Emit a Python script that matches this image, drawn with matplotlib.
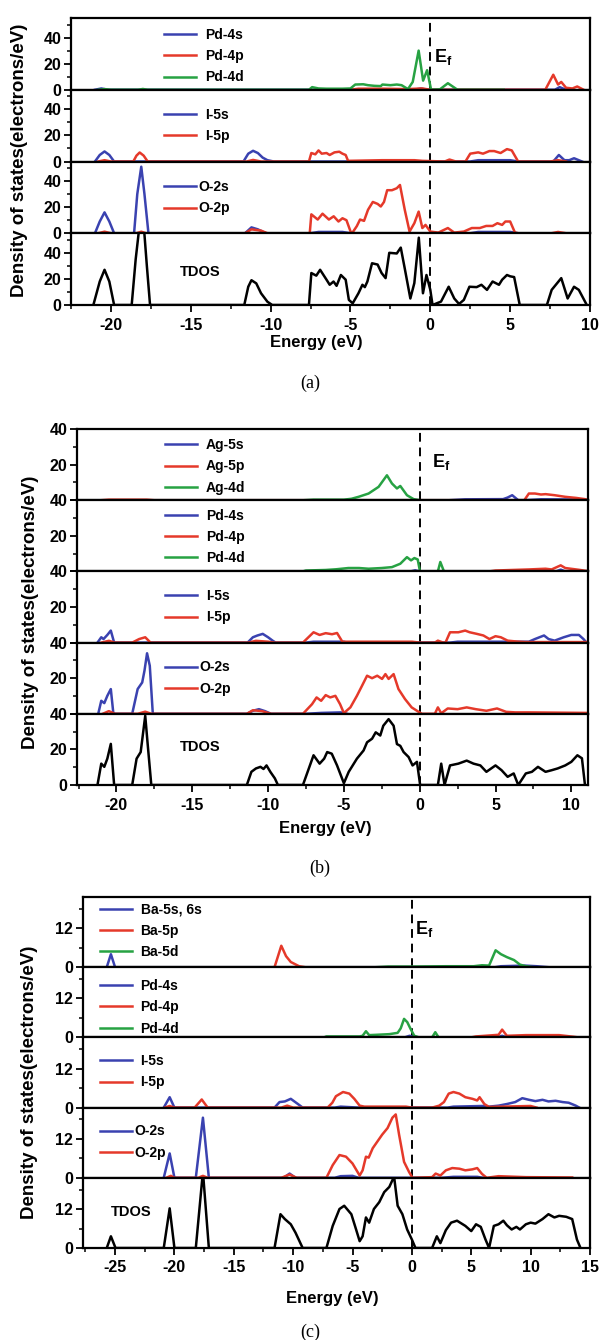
import matplotlib
matplotlib.use('Agg')
import matplotlib.pyplot as plt
from matplotlib.ticker import MultipleLocator

plt.rcParams['font.family'] = ['Liberation Sans', 'DejaVu Sans']
plt.rcParams['font.weight'] = 'bold'
plt.rcParams['axes.unicode_minus'] = False
plt.rcParams['mathtext.fontset'] = 'custom'
plt.rcParams['mathtext.bf'] = 'Liberation Sans:bold'
plt.rcParams['mathtext.rm'] = 'Liberation Sans:bold'

BLUE = '#3a42b0'
RED = '#e5392a'
GREEN = '#27a243'

# ---------------- (a) Pd / I / O / TDOS ----------------
a_pd4s = [(-21.0,0),(-20.6,1.0),(-20.2,0),(-1.0,0),(-0.6,1.0),(-0.2,0),(7.8,0),(8.1,2.0),(8.5,0)]
a_pd4p = [(-5.0,0),(-4.5,0.8),(-3.0,0.8),(-1.5,0.5),(-0.5,1),(0,0),(7.2,0),(7.7,11.5),(8.0,4),(8.2,6),
          (8.5,1.5),(8.9,1),(9.2,2.5),(9.6,0)]
a_pd4d = [(-20.8,0),(-20.4,0.5),(-20,0),(-18.3,0),(-18.0,0.6),(-17.7,0),(-7.6,0),(-7.4,2),(-7.0,1),(-6.5,0.8),
          (-5.5,0.8),(-5.0,1),(-4.7,4),(-4.2,4.2),(-3.9,3.5),(-3.5,3),(-3.1,2.8),(-3.0,4),(-2.5,3.5),(-2.1,4),
          (-1.8,3.5),(-1.4,0.5),(-1.1,6),(-0.73,30),(-0.45,7),(-0.2,15),(0.05,0),(0.6,0.3),(1.1,5),(1.7,0),(4.6,0)]
a_i5s = [(-21.0,0),(-20.7,5),(-20.4,7.7),(-20.1,5),(-19.8,0),(-11.7,0),(-11.4,6),(-11.1,8.2),(-10.8,6.5),
         (-10.5,3),(-10.2,1),(-9.8,0),(2.5,0),(3,1),(5,1),(5.5,0),(7.7,0),(8.05,5),(8.4,1),(8.7,1),(9.0,2.5),(9.5,0)]
a_i5p = [(-20.8,0),(-20.4,1),(-20.0,0),(-18.6,0),(-18.4,4.5),(-18.2,6.9),(-17.95,4.5),(-17.7,0),(-11.5,0),
         (-11.1,1.2),(-10.6,0),(-7.6,0),(-7.45,6.5),(-7.2,5.5),(-7.0,8.5),(-6.8,6),(-6.5,6.5),(-6.3,5),(-6.0,7),
         (-5.7,7.5),(-5.5,6),(-5.3,5),(-5.15,0.5),(-3,1),(-1,1),(-0.5,0.5),(0.9,0),(1.2,1.5),(1.6,0),(2.2,0),
         (2.5,6),(3.0,7),(3.3,6),(3.7,8),(4.0,8),(4.4,6.5),(4.8,9.5),(5.1,8.5),(5.5,0),(7.5,0),(8.0,1),(8.5,0)]
a_o2s = [(-21.0,0),(-20.7,9),(-20.4,16),(-20.1,9),(-19.8,0),(-18.55,0),(-18.35,30),(-18.1,51),(-17.9,30),
         (-17.65,0),(-11.6,0),(-11.2,4.5),(-10.8,3),(-10.3,0),(-7.5,0),(-7,1),(-5.5,1),(-5,0),(2.5,0),(3,1),
         (5,1),(5.5,0)]
a_o2p = [(-20.8,0),(-20.4,1.2),(-20,0),(-18.4,0),(-18.1,1.2),(-17.8,0),(-11.6,0),(-11.2,3),(-10.6,2),(-10.2,0),
         (-7.55,0),(-7.45,14.5),(-7.05,10.5),(-6.75,15),(-6.35,10.5),(-6.05,13),(-5.75,9),(-5.5,11.5),
         (-5.25,10),(-5.0,1.5),(-4.9,0),(-4.6,5.5),(-4.4,10.5),(-4.15,9.5),(-3.9,18),(-3.6,24),(-3.3,22.5),
         (-3.1,20.5),(-2.9,24),(-2.7,33),(-2.4,33),(-2.1,34.5),(-1.9,37),(-1.6,18),(-1.3,1.3),(-1.0,7.7),
         (-0.73,16.6),(-0.5,4),(-0.3,6.4),(0,1.3),(0.5,0.5),(1.1,4),(1.5,0.5),(2.1,1.3),(2.6,4),(3.1,4),
         (3.5,5.6),(3.9,5.6),(4.2,7.7),(4.5,6.4),(4.7,9),(5.0,9),(5.3,0.5),(5.5,0),(7.6,0),(8.0,1),(8.5,0)]
a_tdos = [(-21.1,0),(-20.7,18),(-20.4,27),(-20.1,18),(-19.8,0),(-18.7,0),(-18.45,35),(-18.2,62),(-17.95,62),
          (-17.75,30),(-17.55,0),(-11.65,0),(-11.4,14),(-11.2,19),(-10.9,16.6),(-10.6,9),(-10.2,2.5),(-9.9,0),
          (-7.6,0),(-7.45,24.5),(-7.14,22.5),(-6.9,27),(-6.5,19.4),(-6.3,15.5),(-6.06,18),(-5.87,14.7),
          (-5.6,23),(-5.3,19.4),(-5.1,3.9),(-4.86,1.3),(-4.5,9),(-4.25,15.5),(-4.1,13.7),(-3.94,18),(-3.65,32),
          (-3.3,31),(-3.05,24.5),(-2.8,20.6),(-2.57,40),(-2.1,39.5),(-1.85,44),(-1.6,28),(-1.25,5),(-1.0,16.8),
          (-0.72,51.6),(-0.46,9),(-0.24,23),(0,11.6),(0.14,0),(0.67,2.6),(1.15,14),(1.5,5),(1.8,0.8),(2.1,3.9),
          (2.45,14),(2.9,13.7),(3.2,15.5),(3.55,11.6),(3.9,18),(4.3,15.5),(4.5,19.4),(4.8,23),(5.0,22),
          (5.25,21.4),(5.6,0),(7.3,0),(7.6,11.6),(8.2,20.6),(8.6,5),(9.0,14),(9.3,11.6),(9.8,0)]

# ---------------- (b) Ag / Pd / I / O / TDOS ----------------
b_ag5s = [(2.0,0),(3.0,0.5),(5.5,0.6),(5.8,1.5),(6.1,2.8),(6.5,0),(7,0),(8,0.5),(10,0.4),(11,0)]
b_ag5p = [(-21,0),(-20.5,0.3),(-18,0.3),(-17.5,0),(6.9,0),(7.2,3.75),(7.6,3.75),(8.0,3.2),(8.3,3.4),(8.9,2.8),
          (9.6,1.9),(10.3,1.3),(10.9,0.6),(11.2,0)]
b_ag4d = [(-7.6,0),(-7.0,0.3),(-5.0,0.3),(-4.5,0.8),(-4.03,1.9),(-3.37,3.75),(-2.71,7.5),(-2.16,14),(-1.83,9.4),
          (-1.5,6.6),(-1.28,8),(-0.84,2.8),(-0.4,0.6),(0,0)]
b_pd4s = [(-0.6,0),(-0.3,0.6),(0,0),(9.0,0),(9.3,1),(9.6,0)]
b_pd4p = [(4.6,0),(5.0,0.5),(7.2,1.1),(8.3,1.5),(8.7,1.1),(9.3,3.4),(9.6,1.9),(10.5,0.9),(10.9,0.4),(11.2,0)]
b_pd4d = [(-7.7,0),(-7.5,0.5),(-6.2,0.8),(-5.5,1.2),(-4.7,1.9),(-4.0,1.9),(-3.37,1.5),(-2.5,1.9),(-1.83,2.4),
          (-1.28,4.3),(-0.84,8),(-0.57,6.2),(-0.35,7.5),(-0.13,6.7),(0.02,0),(1.2,0),(1.36,5.3),(1.6,0)]
b_i5s = [(-21.25,0),(-21.0,3),(-20.85,2),(-20.6,4.3),(-20.37,6.75),(-20.15,0),(-11.35,0),(-11.0,3),(-10.7,4),
         (-10.35,4.9),(-10.0,3),(-9.7,1.1),(-9.5,0),(-7.5,0),(-7,0.5),(-5,0.5),(-4.8,0),(2,0),(2.5,0.5),
         (6.5,0.5),(7.2,0.5),(7.6,2),(8.2,4),(8.5,2),(8.9,1.1),(9.5,3),(10.0,4.3),(10.5,4.3),(10.8,2),(11.0,0)]
b_i5p = [(-21.0,0),(-20.5,1),(-20.1,0),(-18.96,0),(-18.5,2),(-18.1,3),(-17.75,0),(-11.3,0),(-10.8,1),
         (-10.0,0.5),(-9.6,0),(-7.7,0),(-7.0,5.8),(-6.6,4.3),(-6.2,5.3),(-5.78,4.7),(-5.45,5.4),(-5.1,0.5),
         (-2,0.5),(-0.5,0.5),(0,0),(1.0,0),(1.2,1.1),(1.55,0),(1.7,0),(2.0,5.8),(2.55,5.8),(3.0,6.75),(3.3,5.8),
         (3.77,4.9),(4.2,4),(4.6,2),(5.0,3.6),(5.35,3),(5.8,1.1),(6.4,0.6),(7.0,0.3),(11,0.3)]
b_o2s = [(-21.2,0),(-21.0,7.3),(-20.8,6),(-20.6,10.1),(-20.37,13.9),(-20.2,0),(-18.96,0),(-18.6,13.9),
         (-18.3,17.6),(-18.15,24.2),(-17.98,34),(-17.8,27),(-17.6,0),(-11.4,0),(-11.0,1.7),(-10.6,2.6),
         (-10.2,1.5),(-9.8,0),(-7.5,0),(-6.5,0.5),(-5.2,0.8),(-4.8,0)]
b_o2p = [(-20.9,0),(-20.5,1.5),(-20.1,0),(-18.6,0),(-18.1,1.2),(-17.7,0),(-11.4,0),(-11.0,2),(-10.4,1.5),
         (-9.8,0),(-7.7,0),(-7.1,5.4),(-6.8,9.2),(-6.5,7.3),(-6.2,10.5),(-5.9,9.2),(-5.56,10.1),(-5.25,5.4),
         (-5.0,0.4),(-4.57,3.6),(-4.14,10.1),(-3.8,15.8),(-3.47,21.4),(-3.14,20),(-2.8,21.4),(-2.48,19.6),
         (-2.26,22.3),(-2.05,19.6),(-1.72,22.3),(-1.4,13.9),(-0.97,8.3),(-0.53,3.6),(-0.07,1.1),(0.15,0),
         (1.0,0),(1.2,3.6),(1.42,0.3),(1.85,3),(2.5,2.6),(3.1,3.6),(3.7,2.6),(4.4,1.7),(5.1,3),(5.7,1.1),
         (6.3,0.8),(7.2,0.8),(11,0.5)]
b_tdos = [(-21.25,0),(-21.0,12),(-20.8,10.2),(-20.6,14.8),(-20.37,23.1),(-20.15,0),(-18.96,0),(-18.67,14.8),
          (-18.4,18.5),(-18.1,38.9),(-17.95,24),(-17.7,0),(-11.4,0),(-11.1,7.4),(-10.8,9.3),(-10.5,10.2),
          (-10.3,9),(-10.1,11),(-9.85,7.4),(-9.55,3.7),(-9.35,0),(-7.7,0),(-7.0,16.7),(-6.6,12),(-6.3,14.8),
          (-6.1,18.5),(-5.8,17.6),(-5.45,11),(-5.0,1),(-4.68,7.4),(-4.14,14.8),(-3.7,19.4),(-3.47,24),
          (-3.14,26),(-2.9,29.6),(-2.6,27.8),(-2.4,33.3),(-2.05,37),(-1.72,33.3),(-1.5,23),(-1.28,22),
          (-1.06,18.5),(-0.73,15.7),(-0.47,11),(-0.18,13),(0.03,0),(1.2,0),(1.42,12),(1.64,0),(2.0,11),
          (2.55,12),(3.1,13.7),(3.55,12),(4.0,11),(4.4,7.4),(5.0,11),(5.4,8.3),(5.8,4.6),(6.2,6.5),(6.5,0),
          (7.0,6.5),(7.4,7.4),(7.8,10.2),(8.3,7.4),(8.7,8.3),(9.1,9.3),(9.6,11),(10.0,13),(10.4,16.7),
          (10.7,15),(10.9,0)]

# ---------------- (c) Ba / Pd / I / O / TDOS ----------------
c_ba5s = [(-25.7,0),(-25.35,4),(-25.0,0),(7,0),(7.5,0.3),(9.5,0.5),(10.5,0.3),(11.5,0)]
c_ba5p = [(-11.57,0),(-11.0,6.6),(-10.6,3.4),(-10.2,1.6),(-9.5,0.3),(-9.0,0)]
c_ba5d = [(-3,0),(-2,0.2),(0,0.2),(2.86,0.3),(5.2,0.3),(5.9,0.6),(6.5,0.5),(7.05,5.2),(7.5,4),(8.0,3.1),
          (8.6,2.2),(9.1,0.8),(9.6,0.3),(10.2,0)]
c_pd4s = [(-0.6,0),(-0.2,0.5),(0.3,0),(7.2,0),(7.6,0.5),(8.0,0)]
c_pd4p = [(5.0,0),(5.4,0.3),(7.3,0.8),(7.6,2.4),(8.0,0.5),(9.6,0.7),(12.4,0.7),(13.6,0.2),(14,0)]
c_pd4d = [(-7.4,0),(-7.2,0.3),(-4.4,0.3),(-4.15,0.5),(-3.87,1.9),(-3.6,0.7),(-3.0,0.8),(-1.9,1.0),(-1.2,1.4),
          (-0.94,2.8),(-0.66,5.7),(-0.39,4.7),(-0.11,2.6),(0.2,0.5),(0.6,0),(1.7,0),(1.97,1.6),(2.25,0)]
c_i5s = [(-20.9,0),(-20.4,3.2),(-20.0,0),(-11.57,0),(-11.15,1.7),(-10.7,1.9),(-10.2,2.7),(-9.6,1.1),(-9.2,0),
         (-6.5,0),(-6,0.3),(-4.5,0),(3,0),(3.5,0.3),(6.0,0.5),(6.5,0.3),(7.3,0.6),(8.0,1.1),(8.7,1.7),(9.3,2.9),
         (9.86,2.4),(10.4,2.0),(11.0,2.4),(11.5,1.9),(12.1,2.1),(12.7,1.7),(13.2,1.5),(13.8,0.6),(14.1,0)]
c_i5p = [(-20.8,0),(-20.4,0.5),(-20.0,0),(-18.3,0),(-17.7,2.5),(-17.2,0),(-11.0,0),(-10.5,0.6),(-10.0,0),
         (-7.1,0),(-6.7,1.5),(-6.4,3.5),(-5.8,4.8),(-5.27,4.3),(-4.85,2.7),(-4.4,0.6),(-4.0,0.3),(-0.5,0.3),
         (0,0),(1.7,0),(2.3,0.6),(2.7,1.7),(3.1,4.3),(3.5,4.8),(4.0,4.3),(4.5,3.2),(5.1,2.7),(5.5,2.2),
         (5.7,3.2),(6.1,1.1),(6.5,0.2),(10,0.5),(10.5,0)]
c_o2s = [(-20.9,0),(-20.4,7.5),(-20.0,0),(-18.2,0),(-17.6,18.5),(-17.1,0),(-10.8,0),(-10.3,1.3),(-9.8,0),
         (-6.5,0),(-6.0,0.5),(-5.0,0.6),(-4.5,0),(2.5,0),(3.5,0.3),(5.5,0.3),(6,0)]
c_o2p = [(-20.7,0),(-20.3,0.6),(-20.0,0),(-18.0,0),(-17.6,0.6),(-17.2,0),(-11.0,0),(-10.3,1.0),(-9.7,0),
         (-7.2,0),(-6.67,3.9),(-6.1,7),(-5.55,6.5),(-5.0,4.4),(-4.4,0.7),(-4.15,2.3),(-3.87,6.5),(-3.64,6.2),
         (-3.3,9.1),(-2.9,11.2),(-2.5,13.3),(-2.05,15.3),(-1.64,18.5),(-1.36,19.5),(-1.08,13.3),(-0.66,4.9),
         (-0.24,1.8),(0.05,0),(1.7,0.2),(2.0,1.3),(2.4,0.7),(2.86,2.3),(3.4,3.0),(4.0,2.8),(4.5,2.3),(5.1,2.6),
         (5.5,3.0),(5.9,1.2),(6.3,0),(7.3,0.5),(9.6,0.2),(13.5,0.1)]
c_tdos = [(-25.7,0),(-25.35,3.6),(-24.96,0),(-20.9,0),(-20.4,12.2),(-20.0,0),(-18.2,0),(-17.6,23.5),(-17.1,0),
          (-11.57,0),(-11.07,10.4),(-10.7,8.9),(-10.2,7.3),(-9.8,4.7),(-9.2,0),(-7.2,0),(-6.67,6.8),(-6.1,12),
          (-5.7,13),(-5.1,10.4),(-4.7,5.7),(-4.4,2.1),(-4.15,3.6),(-3.87,9.4),(-3.6,7.8),(-3.2,12),(-2.75,14.1),
          (-2.33,17.2),(-1.9,18.8),(-1.5,22),(-1.2,13),(-0.8,10.4),(-0.4,5.7),(0,2.6),(0.3,0),(1.7,0),(2.1,3.6),
          (2.4,1.5),(2.86,5.5),(3.3,7.8),(3.8,8.4),(4.5,6.8),(5.0,5.2),(5.4,7.3),(5.8,6.5),(6.2,2.6),(6.5,0),
          (6.9,6.8),(7.3,7.3),(7.7,8.4),(8.0,7),(8.4,5.7),(8.8,6.5),(9.1,5.7),(9.6,7.3),(10.0,7.8),(10.4,7.5),
          (11.0,8.9),(11.5,10.4),(12.0,9.4),(12.4,9.9),(13.0,9.6),(13.5,8.9),(13.9,2.6),(14.2,0)]

W, H = 601, 1340
fig = plt.figure(figsize=(W/100, H/100), dpi=100)


def stack(left, right, top, bottom, n):
    h = (bottom - top) / n
    axes = []
    for i in range(n):
        t = top + i*h
        axes.append(fig.add_axes([left/W, 1 - (t+h)/H, (right-left)/W, h/H]))
    return axes


def curve(ax, pts, color, label=None):
    xs = [p[0] for p in pts]
    ys = [p[1] for p in pts]
    ax.plot(xs, ys, color=color, lw=1.8, label=label, solid_joinstyle='round')


def style(ax, xlim, ylim, ymaj, ymin, bottom, show_zero=True):
    ax.set_xlim(*xlim)
    ax.set_ylim(*ylim)
    for s in ax.spines.values():
        s.set_linewidth(1.6)
    ax.xaxis.set_major_locator(MultipleLocator(5))
    ax.xaxis.set_minor_locator(MultipleLocator(2.5))
    ax.yaxis.set_major_locator(MultipleLocator(ymaj))
    ax.yaxis.set_minor_locator(MultipleLocator(ymin))
    ax.tick_params(axis='y', which='major', direction='out', length=5, width=1.3, labelsize=11.5, pad=2)
    ax.tick_params(axis='y', which='minor', direction='out', length=3, width=1.1)
    if bottom:
        ax.tick_params(axis='x', which='major', direction='out', length=5, width=1.3, labelsize=11.5, pad=4)
        ax.tick_params(axis='x', which='minor', direction='out', length=3, width=1.1)
    else:
        ax.tick_params(axis='x', which='both', bottom=False, labelbottom=False)
    ax.axvline(0, color='k', lw=1.4, ls=(0, (4.5, 3)), zorder=0)
    ax.yaxis.set_major_formatter(plt.FuncFormatter(
        lambda v, p: '' if (v == 0 and not show_zero) else '%d' % v))


def leg(ax, y_top, x_left, pad=0.6):
    ax.legend(loc='upper left', bbox_to_anchor=(x_left, y_top), frameon=False, borderpad=0,
              borderaxespad=0, handlelength=2.3, handletextpad=pad, labelspacing=0.52,
              prop={'size': 10, 'weight': 'bold'})


def tdos_label(ax, x, y):
    ax.text(x, y, 'TDOS', transform=ax.transAxes, fontsize=10.5, fontweight='bold', va='center', ha='left')


def ef_label(ax, x, y):
    ax.text(x, y, r'$\mathbf{E_f}$', transform=ax.get_xaxis_transform(), fontsize=13, va='center')


# ---- panel (a)
axA = stack(71, 590, 18, 305, 4)
for i, ax in enumerate(axA):
    style(ax, (-22.5, 10), (0, 55), 20, 10, i == 3)
curve(axA[0], a_pd4s, BLUE, 'Pd-4s')
curve(axA[0], a_pd4p, RED, 'Pd-4p')
curve(axA[0], a_pd4d, GREEN, 'Pd-4d')
leg(axA[0], 0.86, 0.18)
curve(axA[1], a_i5s, BLUE, 'I-5s')
curve(axA[1], a_i5p, RED, 'I-5p')
leg(axA[1], 0.75, 0.18)
curve(axA[2], a_o2s, BLUE, 'O-2s')
curve(axA[2], a_o2p, RED, 'O-2p')
leg(axA[2], 0.74, 0.18, pad=0.15)
curve(axA[3], a_tdos, 'black')
tdos_label(axA[3], 0.21, 0.46)
ef_label(axA[0], 0.25, 0.45)
fig.text(316/W, 1 - 342/H, 'Energy (eV)', ha='center', va='center', fontsize=12, fontweight='bold')
fig.text(310/W, 1 - 383/H, '(a)', ha='center', va='center', fontsize=13, family='Liberation Serif',
         fontweight='normal')
fig.text(20/W, 1 - 160/H, 'Density of states(electrons/eV)', rotation=90, ha='center', va='center',
         fontsize=13.5, fontweight='bold')

# ---- panel (b)
axB = stack(77, 588, 429, 785, 5)
for i, ax in enumerate(axB):
    style(ax, (-22.6, 11.1), (0, 40), 20, 10, i == 4, show_zero=(i == 4))
curve(axB[0], b_ag5s, BLUE, 'Ag-5s')
curve(axB[0], b_ag5p, RED, 'Ag-5p')
curve(axB[0], b_ag4d, GREEN, 'Ag-4d')
leg(axB[0], 0.87, 0.173)
curve(axB[1], b_pd4s, BLUE, 'Pd-4s')
curve(axB[1], b_pd4p, RED, 'Pd-4p')
curve(axB[1], b_pd4d, GREEN, 'Pd-4d')
leg(axB[1], 0.88, 0.173)
curve(axB[2], b_i5s, BLUE, 'I-5s')
curve(axB[2], b_i5p, RED, 'I-5p')
leg(axB[2], 0.75, 0.173)
curve(axB[3], b_o2s, BLUE, 'O-2s')
curve(axB[3], b_o2p, RED, 'O-2p')
leg(axB[3], 0.75, 0.173, pad=0.15)
curve(axB[4], b_tdos, 'black')
tdos_label(axB[4], 0.202, 0.53)
ef_label(axB[0], 0.8, 0.53)
fig.text(325/W, 1 - 828/H, 'Energy (eV)', ha='center', va='center', fontsize=12, fontweight='bold')
fig.text(320/W, 1 - 868/H, '(b)', ha='center', va='center', fontsize=13, family='Liberation Serif',
         fontweight='normal')
fig.text(31/W, 1 - 612/H, 'Density of states(electrons/eV)', rotation=90, ha='center', va='center',
         fontsize=13.5, fontweight='bold')

# ---- panel (c)
axC = stack(83, 590, 897, 1248, 5)
for i, ax in enumerate(axC):
    style(ax, (-27.7, 15), (0, 21.6), 12, 6, i == 4)
curve(axC[0], c_ba5s, BLUE, 'Ba-5s, 6s')
curve(axC[0], c_ba5p, RED, 'Ba-5p')
curve(axC[0], c_ba5d, GREEN, 'Ba-5d')
leg(axC[0], 0.92, 0.034)
curve(axC[1], c_pd4s, BLUE, 'Pd-4s')
curve(axC[1], c_pd4p, RED, 'Pd-4p')
curve(axC[1], c_pd4d, GREEN, 'Pd-4d')
leg(axC[1], 0.83, 0.034)
curve(axC[2], c_i5s, BLUE, 'I-5s')
curve(axC[2], c_i5p, RED, 'I-5p')
leg(axC[2], 0.76, 0.034)
curve(axC[3], c_o2s, BLUE, 'O-2s')
curve(axC[3], c_o2p, RED, 'O-2p')
leg(axC[3], 0.76, 0.034, pad=0.15)
curve(axC[4], c_tdos, 'black')
tdos_label(axC[4], 0.055, 0.51)
ef_label(axC[0], 0.25, 0.55)
fig.text(332/W, 1 - 1299/H, 'Energy (eV)', ha='center', va='center', fontsize=12, fontweight='bold')
fig.text(310/W, 1 - 1332/H, '(c)', ha='center', va='center', fontsize=13, family='Liberation Serif',
         fontweight='normal')
fig.text(30/W, 1 - 1082/H, 'Density of states(electrons/eV)', rotation=90, ha='center', va='center',
         fontsize=13.5, fontweight='bold')

fig.savefig('out.png', dpi=100)
